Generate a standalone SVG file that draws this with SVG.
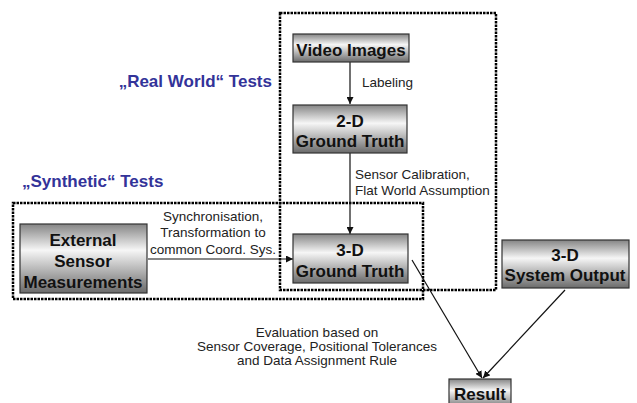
<svg xmlns="http://www.w3.org/2000/svg" width="637" height="403" viewBox="0 0 637 403">
<defs>
<linearGradient id="g" x1="0" y1="0" x2="0" y2="1">
<stop offset="0" stop-color="#858585"/>
<stop offset="0.38" stop-color="#f6f6f6"/>
<stop offset="1" stop-color="#6a6a6a"/>
</linearGradient>
<marker id="ah" viewBox="0 0 10 10" refX="10" refY="5" markerWidth="7" markerHeight="7" markerUnits="userSpaceOnUse" orient="auto">
<path d="M0,0 L10,5 L0,10 z" fill="#111"/>
</marker>
</defs>
<style>
.box{fill:url(#g);stroke:#333;stroke-width:1.2}
.bt{font-family:"Liberation Sans",Arial,sans-serif;font-weight:bold;font-size:17px;fill:#111;text-anchor:middle}
.lb{font-family:"Liberation Sans",Arial,sans-serif;font-size:13.5px;fill:#222}
.ttl{font-family:"Liberation Sans",Arial,sans-serif;font-weight:bold;font-size:17px;fill:#333399}
.dot{fill:none;stroke:#000;stroke-width:2.5;stroke-dasharray:2.5 1}
.cn{stroke:#111;stroke-width:1.2;fill:none;marker-end:url(#ah)}
</style>
<rect width="637" height="403" fill="#fff"/>
<g id="group-real">
<rect class="dot" x="280" y="13" width="216" height="277"/>
<text class="ttl" x="272" y="87" text-anchor="end">„Real World“ Tests</text>
</g>
<g id="group-synthetic">
<rect class="dot" x="13" y="203" width="410" height="96"/>
<text class="ttl" x="22" y="187">„Synthetic“ Tests</text>
</g>
<g id="connectors">
<line class="cn" x1="350" y1="62" x2="350" y2="104"/>
<line class="cn" x1="350" y1="153" x2="350" y2="234"/>
<line class="cn" x1="148" y1="259" x2="293" y2="259"/>
<line class="cn" x1="412" y1="260" x2="482" y2="378"/>
<line class="cn" x1="565" y1="290" x2="483" y2="378"/>
<text class="lb" x="362" y="87">Labeling</text>
<text class="lb" x="355" y="179">Sensor Calibration,</text>
<text class="lb" x="355" y="195">Flat World Assumption</text>
<text class="lb" x="213" y="221" text-anchor="middle">Synchronisation,</text>
<text class="lb" x="213" y="237" text-anchor="middle">Transformation to</text>
<text class="lb" x="213" y="254" text-anchor="middle">common Coord. Sys.</text>
<text class="lb" x="317" y="337" text-anchor="middle">Evaluation based on</text>
<text class="lb" x="317" y="351" text-anchor="middle">Sensor Coverage, Positional Tolerances</text>
<text class="lb" x="317" y="365" text-anchor="middle">and Data Assignment Rule</text>
</g>
<g id="video-images">
<rect class="box" x="293" y="34" width="116" height="28"/>
<text class="bt" x="351" y="56">Video Images</text>
</g>
<g id="gt-2d">
<rect class="box" x="293" y="105" width="114" height="48"/>
<text class="bt" x="350" y="127">2-D</text>
<text class="bt" x="350" y="147">Ground Truth</text>
</g>
<g id="gt-3d">
<rect class="box" x="293" y="234" width="115" height="49"/>
<text class="bt" x="350" y="256">3-D</text>
<text class="bt" x="350" y="277">Ground Truth</text>
</g>
<g id="external-sensor">
<rect class="box" x="20" y="224" width="127" height="69"/>
<text class="bt" x="83" y="246">External</text>
<text class="bt" x="83" y="267">Sensor</text>
<text class="bt" x="83" y="288">Measurements</text>
</g>
<g id="system-output">
<rect class="box" x="502" y="240" width="127" height="48"/>
<text class="bt" x="565" y="261">3-D</text>
<text class="bt" x="565" y="281">System Output</text>
</g>
<g id="result">
<rect class="box" x="449" y="379" width="62" height="30"/>
<text class="bt" x="480" y="400">Result</text>
</g>
</svg>
